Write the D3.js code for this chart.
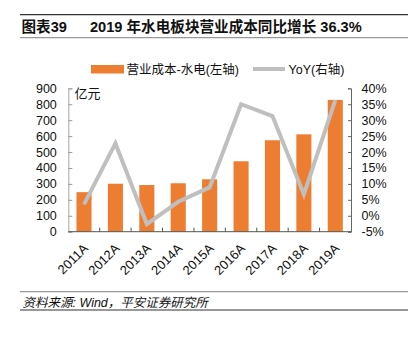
<!DOCTYPE html>
<html>
<head>
<meta charset="utf-8">
<script src="https://cdn.jsdelivr.net/npm/d3@7"></script>
<style>
  body { margin: 0; background: #fff; }
  svg text { font-family: "Liberation Sans", Arial, "Noto Sans CJK SC", sans-serif; fill: #111; }
</style>
</head>
<body>
<div id="chart"></div>
<script>
// data
const years = ["2011A", "2012A", "2013A", "2014A", "2015A", "2016A", "2017A", "2018A", "2019A"];
const cost = [248, 301, 293, 304, 329, 442, 574, 611, 827];      // 亿元
const yoy = [3.6, 22.7, -2.6, 4.4, 8.9, 35.0, 31.3, 6.7, 36.3];   // %
const leftTicks = [0, 100, 200, 300, 400, 500, 600, 700, 800, 900];
const rightTicks = [-5, 0, 5, 10, 15, 20, 25, 30, 35, 40];

const W = 412, H = 339;
const m = {top: 88.3, right: 412 - 351, bottom: 339 - 231.7, left: 68.3};

const svg = d3.select("#chart").append("svg")
    .attr("width", W)
    .attr("height", H);

// header / footer rules
svg.append("line").attr("x1", 20).attr("x2", 408).attr("y1", 14.7).attr("y2", 14.7)
    .attr("stroke", "#333").attr("stroke-width", 1.3);
svg.append("line").attr("x1", 20).attr("x2", 408).attr("y1", 37.7).attr("y2", 37.7)
    .attr("stroke", "#999").attr("stroke-width", 1.3);
svg.append("line").attr("x1", 20).attr("x2", 408).attr("y1", 291.7).attr("y2", 291.7)
    .attr("stroke", "#999").attr("stroke-width", 1.3);
svg.append("line").attr("x1", 20).attr("x2", 408).attr("y1", 310).attr("y2", 310)
    .attr("stroke", "#333").attr("stroke-width", 1.1);

const title = svg.append("text").attr("y", 31.5)
    .style("font-size", "14.6px").style("font-weight", "bold");
title.append("tspan").attr("x", 21.5).text("图表39");
title.append("tspan").attr("x", 90).text("2019 年水电板块营业成本同比增长 36.3%");

svg.append("text").attr("x", 22.5).attr("y", 306.5)
    .style("font-size", "12.5px").style("font-style", "italic")
    .text("资料来源: Wind，平安证券研究所");

// scales
let x = d3.scaleBand()
    .domain(years)
    .range([m.left, W - m.right])
    .paddingInner(0.52)
    .paddingOuter(0.26);

let y = d3.scaleLinear().domain([0, 900]).range([H - m.bottom, m.top]);
let y2 = d3.scaleLinear().domain([-5, 40]).range([H - m.bottom, m.top]);

// left axis
const gl = svg.append("g")
    .attr("transform", "translate(" + m.left + ",0)")
    .call(d3.axisLeft(y).tickValues(leftTicks).tickSize(-4).tickPadding(11.5));
gl.select(".domain").attr("stroke", "#bbb").attr("stroke-width", 1.3);
gl.selectAll(".tick line").attr("stroke", "#999");
gl.selectAll(".tick text").style("font-size", "12.5px").style("font-family", "Liberation Sans, Arial, sans-serif").attr("fill", "#111");

// right axis
const gr = svg.append("g")
    .attr("transform", "translate(" + (W - m.right) + ",0)")
    .call(d3.axisRight(y2).tickValues(rightTicks).tickSize(-3).tickPadding(10.5).tickFormat(d => d + "%"));
gr.select(".domain").attr("stroke", "#666");
gr.selectAll(".tick line").attr("stroke", "#666");
gr.selectAll(".tick text").style("font-size", "12.5px").style("font-family", "Liberation Sans, Arial, sans-serif").attr("fill", "#111");

// bars
svg.selectAll(".bar")
    .data(years)
    .enter()
    .append("rect")
    .attr("class", "bar")
    .attr("x", d => x(d))
    .attr("y", (d, i) => y(cost[i]))
    .attr("width", x.bandwidth())
    .attr("height", (d, i) => y(0) - y(cost[i]))
    .attr("fill", "#ED7D31");

// bottom axis: line + ticks between categories, pointing up
const base = y(0);
svg.append("line").attr("x1", m.left).attr("x2", W - m.right)
    .attr("y1", base).attr("y2", base)
    .attr("stroke", "#555").attr("stroke-width", 1);
const step = x.step();
svg.selectAll(".xtick")
    .data(d3.range(1, years.length))
    .enter()
    .append("line")
    .attr("x1", k => x(years[0]) - step * 0.26 + k * step)
    .attr("x2", k => x(years[0]) - step * 0.26 + k * step)
    .attr("y1", base).attr("y2", base - 4)
    .attr("stroke", "#555");

svg.selectAll(".xlab")
    .data(years)
    .enter()
    .append("text")
    .attr("transform", d => "translate(" + (x(d) + x.bandwidth() / 2 - 1.5) + "," + (base + 11) + ") rotate(-45)")
    .attr("text-anchor", "end")
    .attr("dy", "0.7em")
    .style("font-size", "13px")
    .text(d => d);

// YoY line
const line = d3.line()
    .x((d, i) => x(years[i]) + x.bandwidth() / 2)
    .y(d => y2(d));
svg.append("path")
    .datum(yoy)
    .attr("d", line)
    .attr("fill", "none")
    .attr("stroke", "#BFBFBF")
    .attr("stroke-width", 4)
    .attr("stroke-linejoin", "miter");

// unit label
svg.append("text").attr("x", 74.5).attr("y", 97.5)
    .style("font-size", "13px").text("亿元");

// legend
svg.append("rect").attr("x", 91).attr("y", 65).attr("width", 33).attr("height", 8.5).attr("fill", "#ED7D31");
svg.append("text").attr("x", 126.5).attr("y", 73.5).style("font-size", "12.5px").text("营业成本-水电(左轴)");
svg.append("line").attr("x1", 253).attr("x2", 285).attr("y1", 69).attr("y2", 69)
    .attr("stroke", "#BFBFBF").attr("stroke-width", 4);
svg.append("text").attr("x", 288.5).attr("y", 73.5).style("font-size", "12.5px").text("YoY(右轴)");
</script>
</body>
</html>
